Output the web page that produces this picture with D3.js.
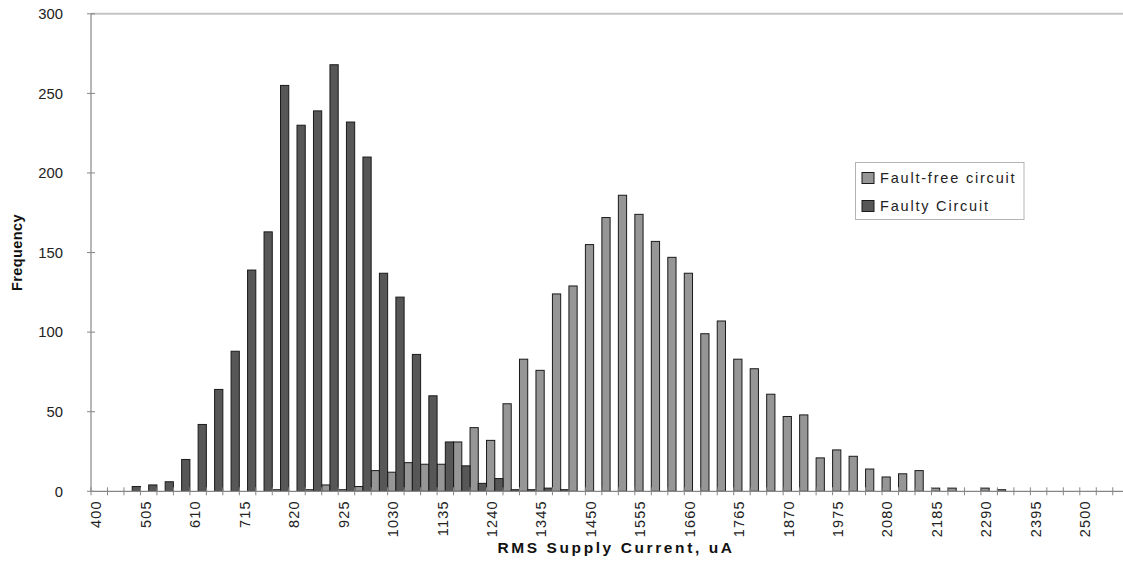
<!DOCTYPE html>
<html>
<head>
<meta charset="utf-8">
<script src="https://cdn.jsdelivr.net/npm/d3@7/dist/d3.min.js"></script>
<style>
  html, body { margin: 0; padding: 0; background: #fff; overflow: hidden; }
  svg { display: block; font-family: "Liberation Sans", Arial, sans-serif; }
</style>
</head>
<body>
<svg id="chart" width="1123" height="574"></svg>
<script>
// Histogram bins (lower edge of each 35 uA bin)
const bins = [400, 435, 470, 505, 540, 575, 610, 645, 680, 715, 750, 785, 820, 855, 890, 925,
  960, 995, 1030, 1065, 1100, 1135, 1170, 1205, 1240, 1275, 1310, 1345, 1380, 1415, 1450, 1485,
  1520, 1555, 1590, 1625, 1660, 1695, 1730, 1765, 1800, 1835, 1870, 1905, 1940, 1975, 2010, 2045,
  2080, 2115, 2150, 2185, 2220, 2255, 2290, 2325, 2360, 2395, 2430, 2465, 2500, 2535, 2570];

// Frequency counts per bin
const faultFree = [0, 0, 0, 0, 0, 0, 0, 0, 0, 0, 0, 1, 0, 1, 4, 1,
  3, 13, 12, 18, 17, 17, 31, 40, 32, 55, 83, 76, 124, 129, 155, 172,
  186, 174, 157, 147, 137, 99, 107, 83, 77, 61, 47, 48, 21, 26, 22, 14,
  9, 11, 13, 2, 2, 0, 2, 1, 0, 0, 0, 0, 0, 0, 0];

const faulty = [0, 0, 3, 4, 6, 20, 42, 64, 88, 139, 163, 255, 230, 239, 268, 232,
  210, 137, 122, 86, 60, 31, 16, 5, 8, 1, 1, 2, 1, 0, 0, 0,
  0, 0, 0, 0, 0, 0, 0, 0, 0, 0, 0, 0, 0, 0, 0, 0,
  0, 0, 0, 0, 0, 0, 0, 0, 0, 0, 0, 0, 0, 0, 0];

// Every third bin carries a label on the x axis
const xTickLabels = ["400", "505", "610", "715", "820", "925", "1030", "1135", "1240", "1345",
  "1450", "1555", "1660", "1765", "1870", "1975", "2080", "2185", "2290", "2395", "2500"];

const yTicks = [0, 50, 100, 150, 200, 250, 300];

const seriesNames = ["Fault-free circuit", "Faulty Circuit"];
const seriesColors = ["#969696", "#575757"];

const svg = d3.select("#chart");
const plotLeft = 91, plotTop = 13.8, plotBottom = 491.3;
const binWidth = 16.48;

const x = d3.scaleBand()
  .domain(bins)
  .range([plotLeft, plotLeft + binWidth * bins.length])
  .paddingInner(0).paddingOuter(0);

const y = d3.scaleLinear().domain([0, 300]).range([plotBottom, plotTop]);

const bw = x.bandwidth();

// plot area frame (top edge)
svg.append("line")
  .attr("x1", plotLeft).attr("x2", x.range()[1])
  .attr("y1", y(300)).attr("y2", y(300))
  .attr("stroke", "#c4c4c4").attr("stroke-width", 2);

// bars: fault-free on the left half of each bin, faulty on the right half
const bars = svg.append("g").attr("stroke", "#1a1a1a").attr("stroke-width", 1);
[faultFree, faulty].forEach((vals, si) => {
  bars.append("g")
    .selectAll("rect")
    .data(bins.map((b, i) => ({ b, v: vals[i] })).filter(d => d.v > 0))
    .join("rect")
    .attr("x", d => x(d.b) + si * bw / 2)
    .attr("width", bw / 2)
    .attr("y", d => y(d.v))
    .attr("height", d => y(0) - y(d.v))
    .attr("fill", seriesColors[si]);
});

// axes
const axisColor = "#868686";
svg.append("line")
  .attr("x1", plotLeft).attr("x2", plotLeft)
  .attr("y1", y(300)).attr("y2", y(0))
  .attr("stroke", axisColor).attr("stroke-width", 1.2);
svg.append("line")
  .attr("x1", plotLeft).attr("x2", x.range()[1])
  .attr("y1", y(0)).attr("y2", y(0))
  .attr("stroke", axisColor).attr("stroke-width", 1.2);

// y ticks cross the axis
svg.append("g").selectAll("line")
  .data(yTicks).join("line")
  .attr("x1", plotLeft - 4).attr("x2", plotLeft + 4)
  .attr("y1", d => y(d)).attr("y2", d => y(d))
  .attr("stroke", axisColor);

svg.append("g").selectAll("text")
  .data(yTicks).join("text")
  .attr("x", plotLeft - 28)
  .attr("y", d => y(d))
  .attr("dy", "0.36em")
  .attr("text-anchor", "end")
  .attr("font-size", 14.8)
  .attr("fill", "#222")
  .text(d => d);

// x ticks on bin boundaries
const boundaries = bins.map(b => x(b)).concat([x.range()[1]]);
svg.append("g").selectAll("line")
  .data(boundaries).join("line")
  .attr("x1", d => d).attr("x2", d => d)
  .attr("y1", y(0) - 4).attr("y2", y(0) + 4)
  .attr("stroke", axisColor);

svg.append("g").selectAll("text")
  .data(xTickLabels).join("text")
  .attr("transform", d => `translate(${x(+d) + bw / 2 + 2.2},${y(0) + 9}) rotate(-90)`)
  .attr("text-anchor", "end")
  .attr("font-size", 14.5)
  .attr("letter-spacing", 1.2)
  .attr("fill", "#222")
  .text(d => d);

// axis titles
svg.append("text")
  .attr("transform", `translate(22,${(y(0) + y(300)) / 2}) rotate(-90)`)
  .attr("text-anchor", "middle")
  .attr("font-size", 14.5)
  .attr("font-weight", "bold")
  .attr("letter-spacing", 0.4)
  .attr("fill", "#111")
  .text("Frequency");

svg.append("text")
  .attr("x", 616).attr("y", 553)
  .attr("text-anchor", "middle")
  .attr("font-size", 15.5)
  .attr("font-weight", "bold")
  .attr("letter-spacing", 2.6)
  .attr("fill", "#111")
  .text("RMS Supply Current, uA");

// legend
const legend = svg.append("g").attr("transform", "translate(855.5,162.5)");
legend.append("rect")
  .attr("width", 168.5).attr("height", 57)
  .attr("fill", "#fff").attr("stroke", "#b4b4b4");
seriesNames.forEach((name, i) => {
  legend.append("rect")
    .attr("x", 6.5).attr("y", 10 + i * 28)
    .attr("width", 12).attr("height", 11)
    .attr("fill", seriesColors[i]).attr("stroke", "#1a1a1a");
  legend.append("text")
    .attr("x", 24.5).attr("y", 20.5 + i * 28)
    .attr("font-size", 14.5)
    .attr("letter-spacing", 1.8)
    .attr("fill", "#222")
    .text(name);
});
</script>
</body>
</html>
